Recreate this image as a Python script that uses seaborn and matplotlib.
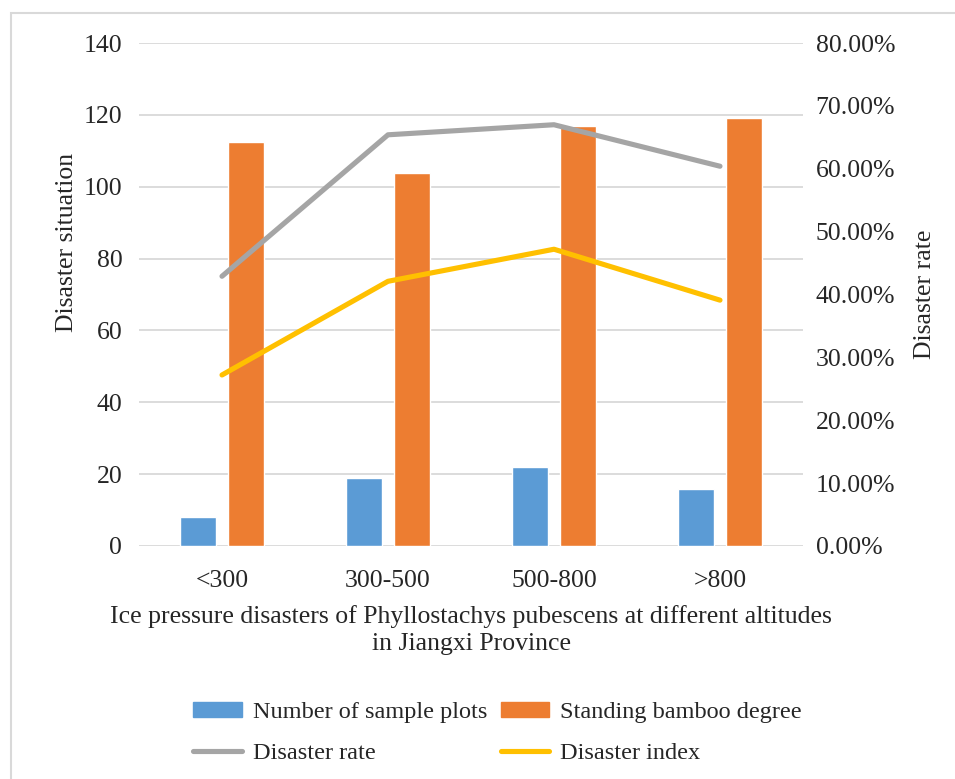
import numpy as np
import pandas as pd
import matplotlib
matplotlib.use("Agg")
import matplotlib.pyplot as plt
import matplotlib.patches as mpatches
from matplotlib.lines import Line2D
from matplotlib.ticker import FuncFormatter
import seaborn as sns

# data
altitudes = ["<300", "300-500", "500-800", ">800"]
sample_plots = [8, 19, 22, 16]
bamboo_degree = [112.4, 103.8, 116.9, 119.1]
disaster_rate = [0.429, 0.654, 0.670, 0.604]
disaster_index = [0.272, 0.421, 0.472, 0.391]

bar_names = ["Number of sample plots", "Standing bamboo degree"]
bar_colors = ["#5B9BD5", "#ED7D31"]
line_names = ["Disaster rate", "Disaster index"]
line_colors = ["#A5A5A5", "#FFC000"]

FS = 18.5

sns.set_style("white")
plt.rcParams["font.family"] = ["Liberation Serif", "DejaVu Serif"]

bars = pd.DataFrame({
    "altitude": altitudes * 2,
    "value": sample_plots + bamboo_degree,
    "series": [bar_names[0]] * 4 + [bar_names[1]] * 4,
})
lines = pd.DataFrame({
    "x": list(range(len(altitudes))) * 2,
    "rate": disaster_rate + disaster_index,
    "series": [line_names[0]] * 4 + [line_names[1]] * 4,
})

fig = plt.figure(figsize=(9.55, 7.79), dpi=100)
ax = fig.add_axes([139 / 955, 1 - 546 / 779, 664 / 955, 503 / 779])

sns.barplot(data=bars, x="altitude", y="value", hue="series",
            palette=bar_colors, width=0.575, gap=0.235, saturation=1,
            ax=ax, legend=False)
ax.set_xlim(-0.5, 3.5)
ax.set_ylim(0, 140)
ax.set_yticks(np.arange(0, 141, 20))
ax.grid(axis="y", color="#D9D9D9", linewidth=1.3)
ax.set_axisbelow(True)
for s in ax.spines.values():
    s.set_visible(False)
ax.tick_params(length=0, labelsize=FS, pad=12)
ax.tick_params(axis="x", pad=17)
ax.set_ylabel("Disaster situation", fontsize=FS)
# the left axis title sits above the middle of the axis
ax.yaxis.set_label_coords(-0.092, 0.604)
ax.set_xlabel("Ice pressure disasters of Phyllostachys pubescens at different altitudes\nin Jiangxi Province",
              fontsize=FS, labelpad=10, linespacing=1.25)

ax2 = ax.twinx()
sns.lineplot(data=lines, x="x", y="rate", hue="series", palette=line_colors,
             linewidth=3.7, ax=ax2, legend=False)
for ln in ax2.lines:
    ln.set_solid_capstyle("round")
    ln.set_solid_joinstyle("round")
ax2.set_ylim(0, 0.8)
ax2.set_yticks(np.arange(0, 0.81, 0.1))
ax2.yaxis.set_major_formatter(FuncFormatter(lambda v, _: f"{v * 100:.2f}%"))
for s in ax2.spines.values():
    s.set_visible(False)
ax2.tick_params(length=0, labelsize=FS, pad=9)
ax2.set_ylabel("Disaster rate", fontsize=FS, labelpad=14)
ax2.set_xlim(-0.5, 3.5)

# column-first fill: bars on the first row, lines on the second
handles = [
    mpatches.Patch(color=bar_colors[0], label=bar_names[0]),
    Line2D([], [], color=line_colors[0], lw=3.7, solid_capstyle="round", label=line_names[0]),
    mpatches.Patch(color=bar_colors[1], label=bar_names[1]),
    Line2D([], [], color=line_colors[1], lw=3.7, solid_capstyle="round", label=line_names[1]),
]
fig.legend(handles=handles, loc="center", bbox_to_anchor=(0.521, 1 - 733 / 779),
           ncol=2, frameon=False, fontsize=17.5, handlelength=2.0,
           handleheight=0.55, columnspacing=0.55, handletextpad=0.45, labelspacing=0.8)

# chart frame
fig.patches.append(mpatches.Rectangle((11 / 955, -0.1), 1.1, 1 - 13 / 779 + 0.1,
                                      transform=fig.transFigure, fill=False,
                                      edgecolor="#D9D9D9", linewidth=1.5))

fig.savefig("out.png", dpi=100)
